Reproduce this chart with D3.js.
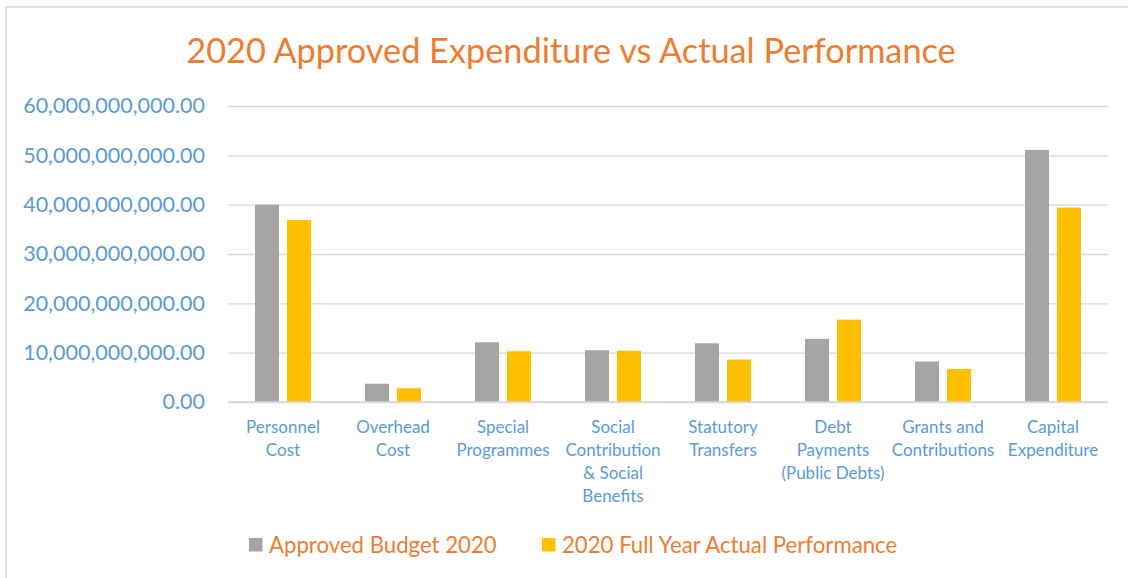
<!DOCTYPE html>
<html>
<head>
<meta charset="utf-8">
<script src="https://cdn.jsdelivr.net/npm/d3@7/dist/d3.min.js"></script>
<style>
  html, body { margin: 0; padding: 0; background: #fff; }
  svg { display: block; font-family: Lato, "Open Sans", sans-serif; }
</style>
</head>
<body>
<svg id="chart" width="1128" height="578"></svg>
<script>
const title = "2020 Approved Expenditure vs Actual Performance";
const categories = ["Personnel Cost", "Overhead Cost", "Special Programmes",
  "Social Contribution & Social Benefits", "Statutory Transfers",
  "Debt Payments (Public Debts)", "Grants and Contributions", "Capital Expenditure"];
const categoryLines = [
  ["Personnel", "Cost"], ["Overhead", "Cost"], ["Special", "Programmes"],
  ["Social", "Contribution", "& Social", "Benefits"], ["Statutory", "Transfers"],
  ["Debt", "Payments", "(Public Debts)"], ["Grants and", "Contributions"], ["Capital", "Expenditure"]
];
const seriesNames = ["Approved Budget 2020", "2020 Full Year Actual Performance"];
const approved = [40.0e9, 3.7e9, 12.1e9, 10.5e9, 11.9e9, 12.8e9, 8.2e9, 51.1e9];
const actual   = [36.9e9, 2.8e9, 10.3e9, 10.4e9, 8.6e9, 16.7e9, 6.7e9, 39.4e9];
const yTicks = [0, 10e9, 20e9, 30e9, 40e9, 50e9, 60e9];
const colors = ["#A5A5A5", "#FFC000"];

const svg = d3.select("#chart");

// chart border
svg.append("rect").attr("x", 6).attr("y", 7).attr("width", 1140).attr("height", 600)
  .attr("fill", "#fff").attr("stroke", "#D9D9D9").attr("stroke-width", 1.5);

const plot = { left: 228, right: 1108, top: 106, bottom: 402 };

const x0 = d3.scaleBand().domain(categories).range([plot.left, plot.right]).padding(0);
const groupW = 56;
const x1 = d3.scaleBand().domain(seriesNames).range([0, groupW]).paddingInner(0.25);
const y = d3.scaleLinear().domain([0, 60e9]).range([plot.bottom, plot.top]);

// title
svg.append("text").attr("x", 571).attr("y", 63).attr("text-anchor", "middle")
  .attr("fill", "#ED7D31").attr("font-size", 34.3).text(title);

// gridlines + y axis
const yAxis = d3.axisLeft(y).tickValues(yTicks)
  .tickSize(-(plot.right - plot.left)).tickPadding(23)
  .tickFormat(d => d3.format(",.2f")(d));
const gy = svg.append("g").attr("transform", `translate(${plot.left},0)`).call(yAxis);
gy.select(".domain").remove();
gy.selectAll(".tick line").attr("stroke", "#D9D9D9").attr("stroke-width", 1.3);
gy.selectAll(".tick text").attr("fill", "#5B9BD5").attr("font-size", 21.5)
  .attr("font-family", "Lato, sans-serif");

// bars
const data = categories.map((c, i) => ({ cat: c, vals: [approved[i], actual[i]] }));
const groups = svg.append("g").selectAll("g").data(data).join("g")
  .attr("transform", d => `translate(${x0(d.cat) + (x0.bandwidth() - groupW) / 2},0)`);
groups.selectAll("rect").data(d => d.vals.map((v, j) => ({ s: seriesNames[j], v, j })))
  .join("rect")
  .attr("x", d => x1(d.s)).attr("width", x1.bandwidth())
  .attr("y", d => y(d.v)).attr("height", d => y(0) - y(d.v))
  .attr("fill", d => colors[d.j]);

// x axis baseline
svg.append("line").attr("x1", plot.left).attr("x2", plot.right)
  .attr("y1", y(0)).attr("y2", y(0)).attr("stroke", "#D9D9D9").attr("stroke-width", 1.3);

// category labels
const xl = svg.append("g");
categories.forEach((c, i) => {
  const t = xl.append("text").attr("x", x0(c) + x0.bandwidth() / 2).attr("y", 433)
    .attr("text-anchor", "middle").attr("fill", "#5B9BD5").attr("font-size", 17);
  categoryLines[i].forEach((ln, k) => {
    t.append("tspan").attr("x", x0(c) + x0.bandwidth() / 2).attr("y", 433 + k * 23).text(ln);
  });
});

// legend
const legendPos = [{ sx: 249, tx: 269 }, { sx: 542, tx: 562 }];
seriesNames.forEach((s, j) => {
  svg.append("rect").attr("x", legendPos[j].sx).attr("y", 538).attr("width", 13.5).attr("height", 13.5)
    .attr("fill", colors[j]);
  svg.append("text").attr("x", legendPos[j].tx).attr("y", 552.5).attr("fill", "#ED7D31")
    .attr("font-size", 22.2).text(s);
});
</script>
</body>
</html>
